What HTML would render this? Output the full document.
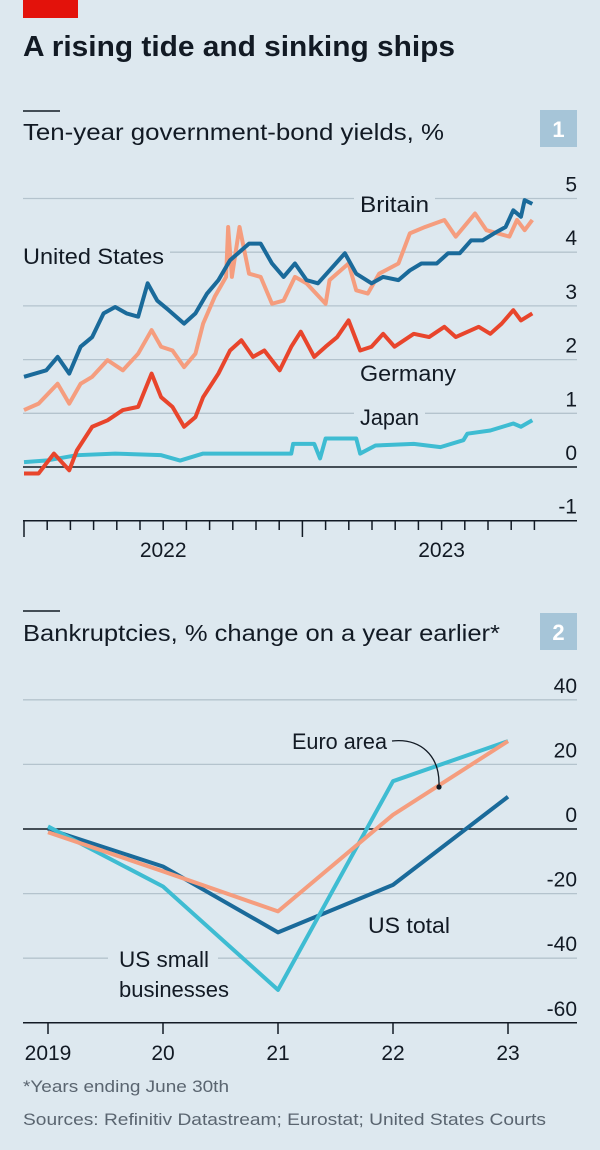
<!DOCTYPE html>
<html><head><meta charset="utf-8"><style>
html,body{margin:0;padding:0;background:#dde8ef;}
svg{display:block;font-family:"Liberation Sans",sans-serif;}
</style></head><body>
<svg id="chart" width="600" height="1150" viewBox="0 0 600 1150">
<rect x="0" y="0" width="600" height="1150" fill="#dde8ef"/>
<rect x="23" y="0" width="55" height="18" fill="#e3120b"/>
<text x="23" y="56" font-size="29" font-weight="bold" fill="#121a24" textLength="432" lengthAdjust="spacingAndGlyphs">A rising tide and sinking ships</text>
<line x1="23" y1="111" x2="60" y2="111" stroke="#121a24" stroke-width="1.5"/>
<text x="23" y="140" font-size="23" fill="#121a24" textLength="421" lengthAdjust="spacingAndGlyphs">Ten-year government-bond yields, %</text>
<rect x="540" y="110" width="37" height="37" fill="#a6c5d8"/>
<text x="558.5" y="137" font-size="22" font-weight="bold" fill="#fff" text-anchor="middle">1</text>
<g id="c1"></g>
<line x1="23" y1="611" x2="60" y2="611" stroke="#121a24" stroke-width="1.5"/>
<text x="23" y="641" font-size="23" fill="#121a24" textLength="477" lengthAdjust="spacingAndGlyphs">Bankruptcies, % change on a year earlier*</text>
<rect x="540" y="613" width="37" height="37" fill="#a6c5d8"/>
<text x="558.5" y="640" font-size="22" font-weight="bold" fill="#fff" text-anchor="middle">2</text>
<g id="c2"></g>
<text x="23" y="1092" font-size="17" fill="#5a6570" textLength="206" lengthAdjust="spacingAndGlyphs">*Years ending June 30th</text>
<text x="23" y="1125" font-size="17" fill="#5a6570" textLength="523" lengthAdjust="spacingAndGlyphs">Sources: Refinitiv Datastream; Eurostat; United States Courts</text>
</svg>
<script>
// ---- Chart 1 data (months since Jan 2022, yield %) ----
const usMonths=[0,0.96,1.45,1.95,2.44,2.94,3.43,3.93,4.42,4.92,5.33,5.74,6.24,6.9,7.39,7.89,8.38,8.88,9.7,10.2,10.69,11.19,11.68,12.18,12.67,13.17,13.83,14.32,14.98,15.48,16.14,16.63,17.13,17.79,18.28,18.78,19.27,19.77,20.26,20.76,21.09,21.42,21.58,21.91];
const usYields=[1.68,1.8,2.05,1.74,2.24,2.42,2.86,2.98,2.86,2.8,3.42,3.1,2.92,2.67,2.86,3.23,3.48,3.85,4.16,4.16,3.79,3.54,3.79,3.48,3.42,3.66,3.98,3.6,3.42,3.54,3.48,3.66,3.79,3.79,3.98,3.98,4.22,4.22,4.35,4.47,4.78,4.66,4.97,4.9];
const ukMonths=[0,0.63,1.45,1.95,2.44,2.94,3.6,4.26,4.92,5.5,5.91,6.4,6.9,7.39,7.72,8.22,8.71,8.8,8.96,9.29,9.7,10.2,10.69,11.19,11.68,12.18,13.0,13.17,13.99,14.32,14.82,15.31,16.14,16.63,17.29,18.12,18.61,19.44,19.93,20.43,20.92,21.25,21.58,21.91];
const ukYields=[1.06,1.18,1.55,1.18,1.55,1.68,1.99,1.8,2.11,2.55,2.24,2.17,1.86,2.11,2.67,3.17,3.54,4.47,3.54,4.47,3.6,3.54,3.04,3.1,3.54,3.42,3.04,3.48,3.79,3.29,3.23,3.6,3.79,4.35,4.47,4.6,4.29,4.72,4.41,4.35,4.29,4.6,4.41,4.6];
const deMonths=[0,0.63,1.29,1.95,2.28,2.94,3.6,4.26,4.92,5.5,5.91,6.4,6.9,7.39,7.72,8.38,8.88,9.37,9.87,10.36,11.02,11.52,11.93,12.51,13.0,13.5,13.99,14.49,14.98,15.48,15.97,16.8,17.46,18.12,18.61,19.6,20.1,20.59,21.09,21.42,21.91];
const deYields=[-0.12,-0.12,0.25,-0.06,0.31,0.75,0.87,1.06,1.12,1.74,1.3,1.12,0.75,0.93,1.3,1.74,2.17,2.36,2.05,2.17,1.8,2.24,2.52,2.05,2.24,2.42,2.73,2.17,2.24,2.48,2.24,2.48,2.42,2.61,2.42,2.61,2.48,2.67,2.92,2.73,2.86];
const jpMonths=[0,0.96,2.28,3.93,5.91,6.73,7.72,9.7,11.52,11.6,12.51,12.76,13.0,14.32,14.49,15.15,16.8,17.95,18.94,19.11,20.1,21.09,21.42,21.91];
const jpYields=[0.09,0.12,0.22,0.25,0.22,0.12,0.25,0.25,0.25,0.43,0.43,0.16,0.53,0.53,0.25,0.4,0.43,0.37,0.5,0.62,0.68,0.81,0.75,0.87];
const yTicks1=[5,4,3,2,1,0,-1];
const yearLabels1=["2022","2023"];
// ---- Chart 2 data ----
const years2=["2019","20","21","22","23"];
const usTotal=[0,-11.6,-32,-17.3,10];
const usSmall=[0.8,-17.8,-49.8,14.8,27.2];
const euroArea=[-1,-13.1,-25.5,4.4,27.2];
const yTicks2=[40,20,0,-20,-40,-60];

const NS="http://www.w3.org/2000/svg";
function mk(parent,tag,attrs){const e=document.createElementNS(NS,tag);for(const k in attrs)e.setAttribute(k,attrs[k]);parent.appendChild(e);return e;}
const BG="#dde8ef";

// Chart 1
const c1=document.getElementById('c1');
const x1=m=>24+m*23.2, y1=v=>467-v*53.7;
yTicks1.forEach(t=>{
  const l=mk(c1,'line',{x1:23,x2:577,y1:y1(t),y2:y1(t),stroke:t===0||t===-1?'#121a24':'#b4c3cd','stroke-width':t===0?1.5:(t===-1?1.5:1.3)});
  
  
  const tx=mk(c1,'text',{x:577,y:y1(t)-7,'font-size':21,'text-anchor':'end',fill:'#121a24'});
  tx.textContent=t;
  
  
});
for(let k=0;k<=22;k++){
  const tk=mk(c1,'line',{x1:x1(k),x2:x1(k),y1:520,y2:(k%12===0)?537:530,stroke:'#121a24','stroke-width':1.5});
  
  
}
yearLabels1.forEach((lab,i)=>{
  const tx=mk(c1,'text',{x:x1(i*12+6),y:557,'font-size':21,'text-anchor':'middle',fill:'#121a24'});
  tx.textContent=lab;
  
  
});
function label1(txt,x,y,w,name){
  const r=mk(c1,'rect',{x:x-6,y:y-20,width:w+12,height:26,fill:BG});
  
  
  const t=mk(c1,'text',{x:x,y:y,'font-size':22,fill:'#121a24',textLength:w,lengthAdjust:'spacingAndGlyphs'});
  t.textContent=txt;
  
  
}
label1('Britain',360,212,69,'label-britain');
label1('United States',23,264,141,'label-united-states');
label1('Germany',360,381,96,'label-germany');
label1('Japan',360,425,59,'label-japan');
function series1(ms,vs,color,name){
  const p=mk(c1,'polyline',{points:ms.map((m,i)=>x1(m)+','+y1(vs[i])).join(' '),fill:'none',stroke:color,'stroke-width':4,'stroke-linejoin':'round'});
  
  
}
series1(jpMonths,jpYields,'#3ebcd2','line-japan');
series1(deMonths,deYields,'#e8452c','line-germany');
series1(ukMonths,ukYields,'#f59d7e','line-britain');
series1(usMonths,usYields,'#1a6a9a','line-united-states');

// Chart 2
const c2=document.getElementById('c2');
const x2=i=>48+i*115, y2=v=>829-v*3.23;
yTicks2.forEach(t=>{
  const l=mk(c2,'line',{x1:23,x2:577,y1:y2(t),y2:y2(t),stroke:(t===0||t===-60)?'#121a24':'#b4c3cd','stroke-width':(t===0||t===-60)?1.5:1.3});
  
  
  const tx=mk(c2,'text',{x:577,y:y2(t)-7,'font-size':21,'text-anchor':'end',fill:'#121a24'});
  tx.textContent=t;
  
  
});
years2.forEach((lab,i)=>{
  const tk=mk(c2,'line',{x1:x2(i),x2:x2(i),y1:1023,y2:1034,stroke:'#121a24','stroke-width':1.5});
  
  
  const tx=mk(c2,'text',{x:x2(i),y:1060,'font-size':21,'text-anchor':'middle',fill:'#121a24'});
  tx.textContent=lab;
  
  
});
const lb=mk(c2,'rect',{x:108,y:945,width:110,height:52,fill:BG});


function series2(vs,color,name){
  const p=mk(c2,'polyline',{points:vs.map((v,i)=>x2(i)+','+y2(v)).join(' '),fill:'none',stroke:color,'stroke-width':4,'stroke-linejoin':'round'});
  
  
}
series2(usTotal,'#1a6a9a','line-us-total');
series2(usSmall,'#3ebcd2','line-us-small-businesses');
series2(euroArea,'#f59d7e','line-euro-area');
function text2(txt,x,y,w,name){
  const t=mk(c2,'text',{x:x,y:y,'font-size':22,fill:'#121a24',textLength:w,lengthAdjust:'spacingAndGlyphs'});
  t.textContent=txt;
  
  
}
text2('Euro area',292,749,95,'label-euro-area');
text2('US total',368,933,82,'label-us-total');
text2('US small',119,967,90,'label-us-small');
text2('businesses',119,997,110,'label-businesses');
const ann=mk(c2,'path',{d:'M392,741 C420,738 440,755 439,786',fill:'none',stroke:'#121a24','stroke-width':1.3});


const dot=mk(c2,'circle',{cx:439,cy:787,r:2.6,fill:'#121a24'});


</script>
</body></html>
